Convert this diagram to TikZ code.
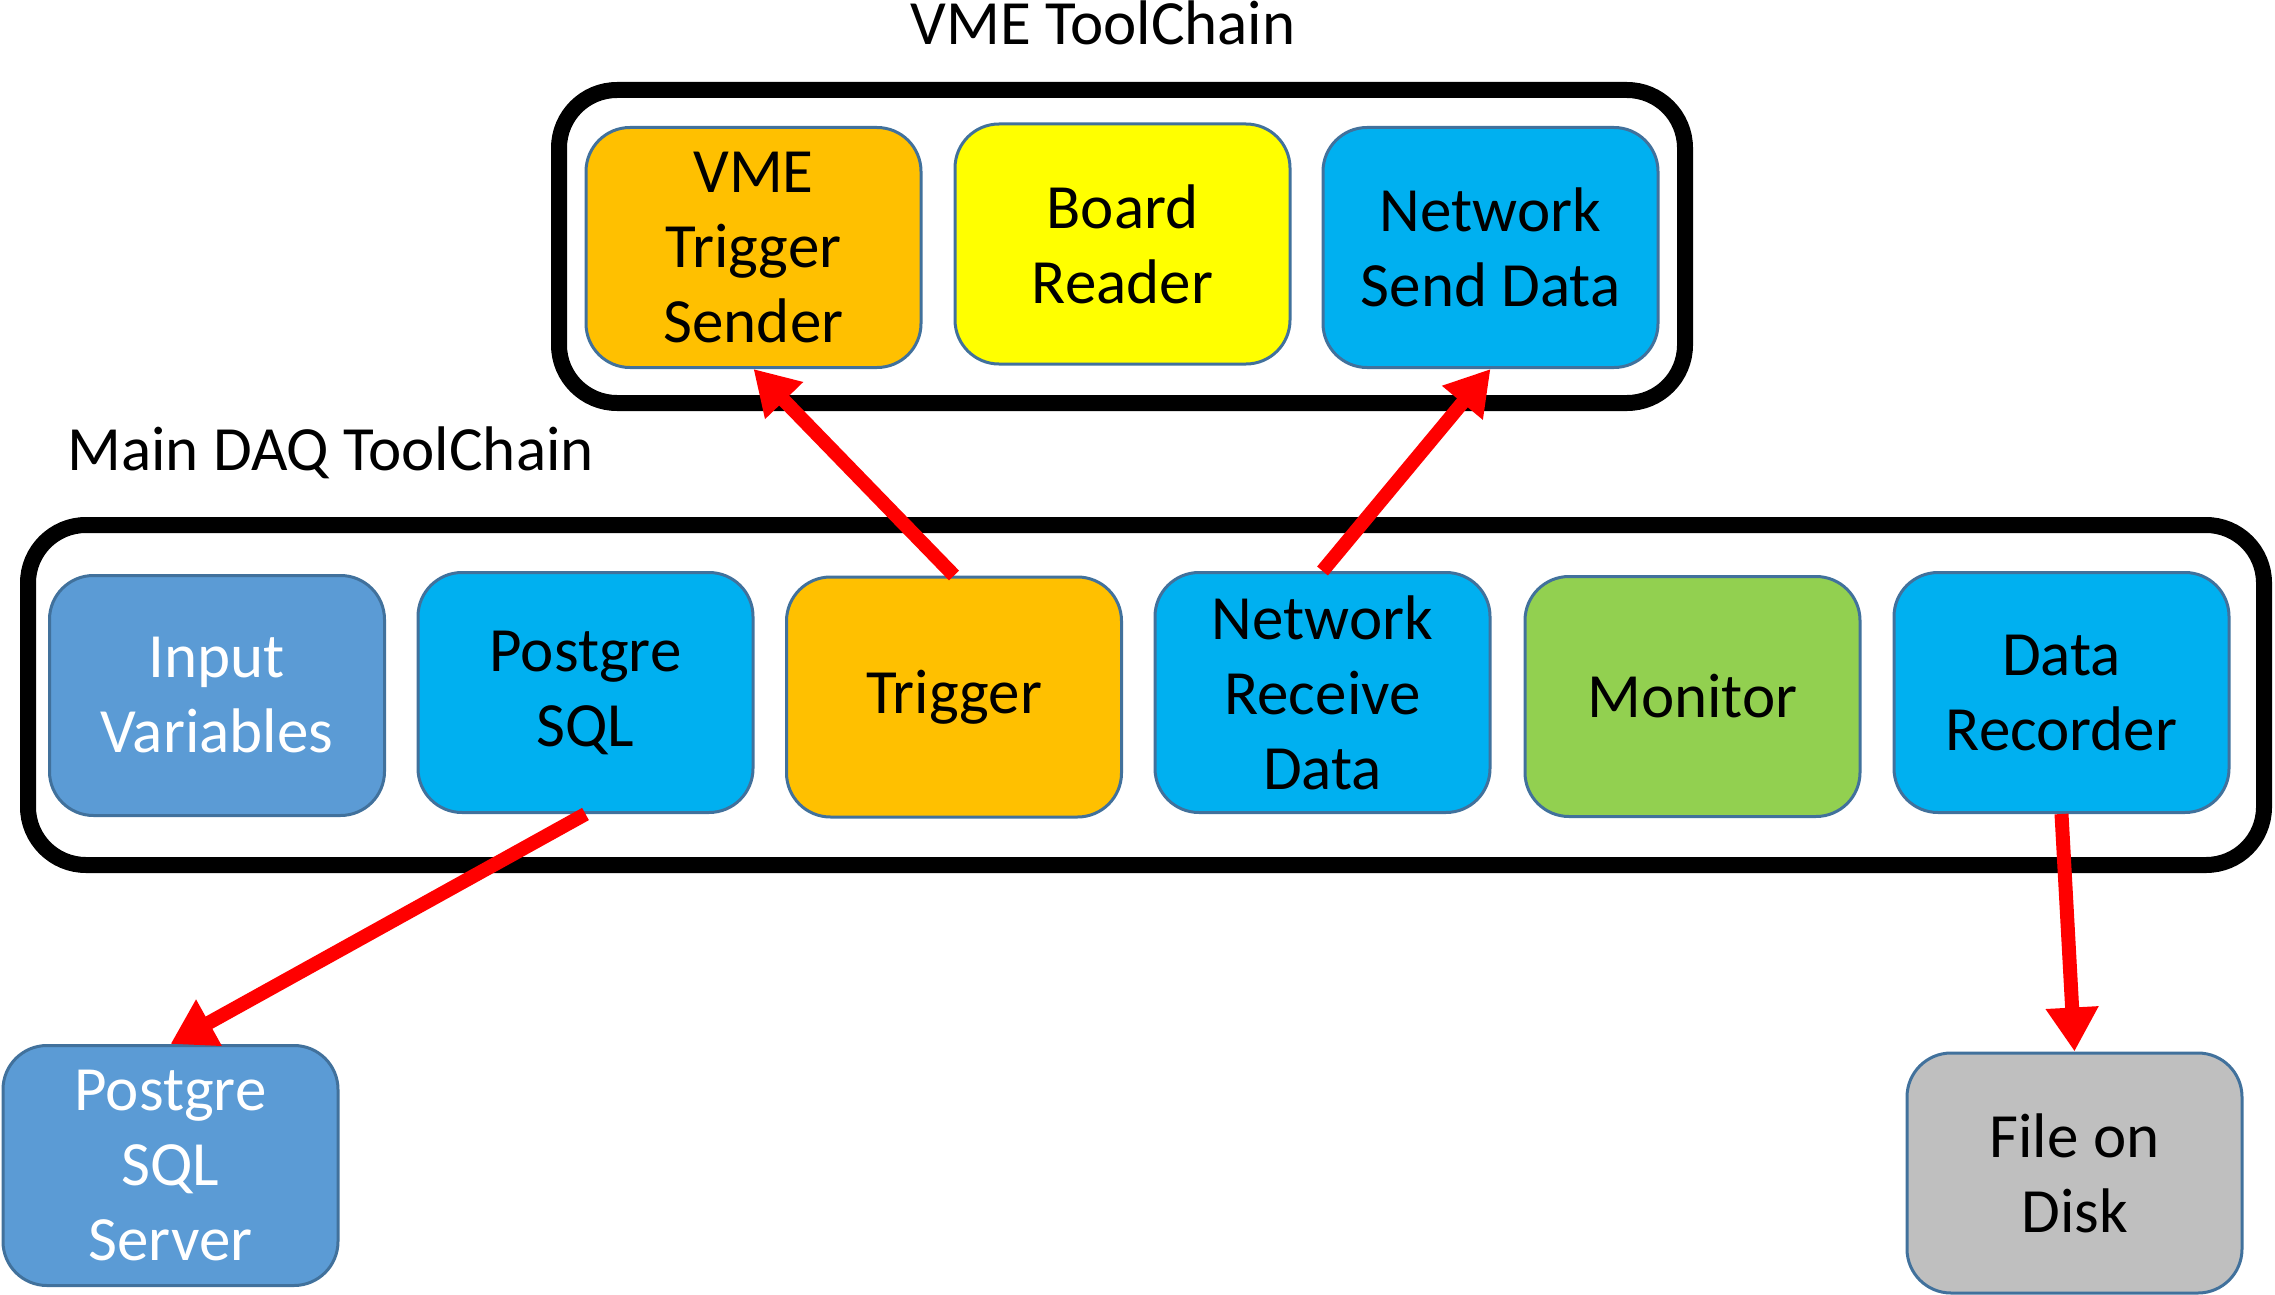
\documentclass[tikz,border=0pt]{standalone}
\usepackage{fontspec}
\setmainfont{Carlito}
\usetikzlibrary{arrows.meta}
\definecolor{cOrange}{HTML}{FFC000}
\definecolor{cYellow}{HTML}{FFFF00}
\definecolor{cBlue}{HTML}{00B0F0}
\definecolor{cSteel}{HTML}{5B9BD5}
\definecolor{cGreen}{HTML}{92D050}
\definecolor{cGray}{HTML}{BFBFBF}
\definecolor{cBorder}{HTML}{41719C}
\definecolor{cRed}{HTML}{FF0000}
\tikzset{
  stepbox/.style={draw=cBorder, line width=1.5pt, rounded corners=22pt,
    minimum width=167.5pt, minimum height=120pt, align=center, inner sep=0pt,
    font=\fontsize{31.5}{37.5}\selectfont, text=black},
  outerbox/.style={draw=black, line width=8pt, rounded corners=29pt},
  title/.style={font=\fontsize{31.5}{37}\selectfont, inner sep=0pt},
  flow/.style={draw=cRed, line width=7pt, -{Triangle[width=25pt,length=22pt]}}
}
\begin{document}
\begin{tikzpicture}[x=0.5pt, y=-0.5pt]
\useasboundingbox (0,0) rectangle (2275,1295);
% containers
\draw[outerbox] (559,90) rectangle (1685,403);
\draw[outerbox] (28,525) rectangle (2264,865);
\node[title, anchor=base] (vmetitle) at (1103,45) {VME ToolChain};
\node[title, anchor=base west] (daqtitle) at (67,470) {Main DAQ ToolChain};
% VME toolchain
\node[stepbox, fill=cOrange] (vts) at (753.5,247.5) {VME\\Trigger\\Sender};
\node[stepbox, fill=cYellow] (br) at (1122.5,244) {Board\\Reader};
\node[stepbox, fill=cBlue] (nsd) at (1490.5,247.5) {Network\\Send Data};
% Main DAQ toolchain
\node[stepbox, fill=cSteel, text=white] (iv) at (217,695.5) {Input\\Variables};
\node[stepbox, fill=cBlue] (pg) at (585.5,692.5) {Postgre\\SQL};
\node[stepbox, fill=cOrange] (trig) at (954,697) {Trigger};
\node[stepbox, fill=cBlue] (nrd) at (1322.5,692.5) {Network\\Receive\\Data};
\node[stepbox, fill=cGreen] (mon) at (1692.5,696.5) {Monitor};
\node[stepbox, fill=cBlue] (dr) at (2061.5,692.5) {Data\\Recorder};
% external
\node[stepbox, fill=cSteel, text=white] (pgs) at (170.5,1165.5) {Postgre\\SQL\\Server};
\node[stepbox, fill=cGray] (fod) at (2074.5,1173) {File on\\Disk};
% arrows
\draw[flow] (trig.north) -- (vts.south);
\draw[flow] (nrd.north) -- (nsd.south);
\draw[flow] (pg.south) -- (pgs.north);
\draw[flow] (dr.south) -- (fod.north);
\end{tikzpicture}
\end{document}
